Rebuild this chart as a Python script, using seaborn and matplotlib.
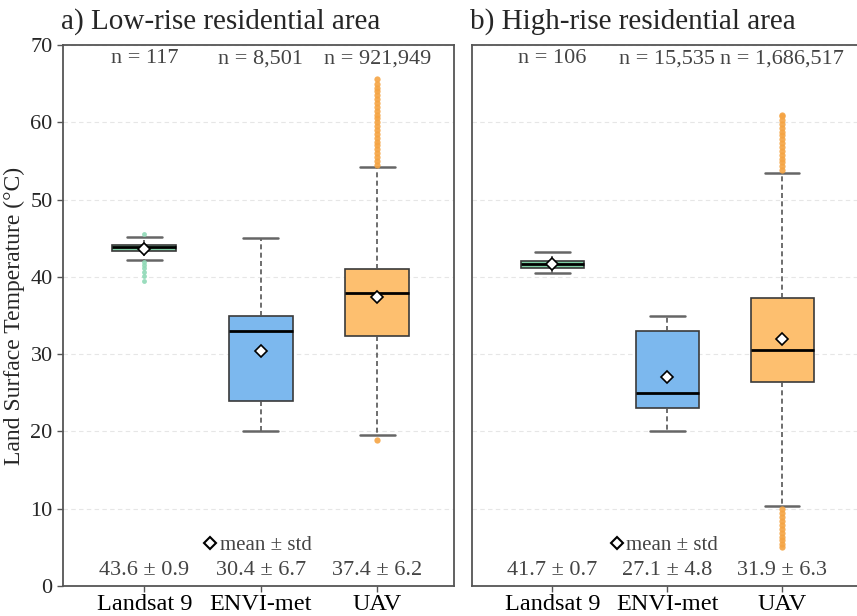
import matplotlib
matplotlib.use("Agg")
import matplotlib.pyplot as plt
from matplotlib.lines import Line2D
import numpy as np
import seaborn as sns

sources = ["Landsat 9", "ENVI-met", "UAV"]
box_colors = ["#7fcfa5", "#7cb8ee", "#fdbf6f"]
flier_colors = ["#8fd9b6", "#7cb8ee", "#f5a443"]

# a) low-rise residential area
low_q1 = [43.4, 24.0, 32.4]
low_med = [43.8, 33.0, 37.9]
low_q3 = [44.1, 35.0, 41.0]
low_whislo = [42.2, 20.0, 19.6]
low_whishi = [45.2, 45.0, 54.2]
low_mean = [43.6, 30.4, 37.4]
low_std = [0.9, 6.7, 6.2]
low_n = ["117", "8,501", "921,949"]
low_fliers = [
    [45.5, 41.9, 41.5, 41.2, 40.6, 40.1, 39.4],
    [],
    [54.5, 55.0, 55.5, 56.0, 56.5, 57.0, 57.5, 58.0, 58.5, 59.0, 59.5, 60.0,
     60.5, 61.0, 61.5, 62.0, 62.5, 63.0, 63.5, 64.0, 64.5, 65.0, 65.6, 18.9],
]

# b) high-rise residential area
high_q1 = [41.2, 23.0, 26.4]
high_med = [41.7, 25.0, 30.6]
high_q3 = [42.1, 33.0, 37.2]
high_whislo = [40.5, 20.0, 10.4]
high_whishi = [43.2, 35.0, 53.4]
high_mean = [41.7, 27.1, 31.9]
high_std = [0.7, 4.8, 6.3]
high_n = ["106", "15,535", "1,686,517"]
high_fliers = [
    [],
    [],
    [53.8, 54.3, 54.8, 55.3, 55.8, 56.3, 56.8, 57.3, 57.8, 58.3, 58.8, 59.3,
     59.8, 60.3, 60.8, 61.0, 9.9, 9.4, 8.9, 8.4, 7.9, 7.4, 6.9, 6.4, 5.9,
     5.4, 5.1],
]

panels = [
    ("a) Low-rise residential area", low_q1, low_med, low_q3, low_whislo,
     low_whishi, low_mean, low_std, low_n, low_fliers),
    ("b) High-rise residential area", high_q1, high_med, high_q3, high_whislo,
     high_whishi, high_mean, high_std, high_n, high_fliers),
]

sns.set_style("ticks")
plt.rcParams["font.family"] = ["Liberation Serif", "DejaVu Serif"]

fig = plt.figure(figsize=(8.57, 6.16), dpi=100)
ax_left = fig.add_axes([63 / 857, 30 / 616, 391 / 857, 541 / 616])
ax_right = fig.add_axes([472 / 857, 30 / 616, 386 / 857, 541 / 616])

text_color = "#444444"
edge_color = "#3a3a3a"

for ax, (title, q1, med, q3, wlo, whi, mean, std, n, fliers) in zip(
        [ax_left, ax_right], panels):
    stats = []
    for i in range(len(sources)):
        stats.append(dict(label=sources[i], q1=q1[i], med=med[i], q3=q3[i],
                          whislo=wlo[i], whishi=whi[i], mean=mean[i],
                          fliers=np.array(fliers[i])))
    positions = np.arange(len(sources))
    bp = ax.bxp(stats, positions=positions, widths=0.55, patch_artist=True,
                showmeans=True,
                boxprops=dict(edgecolor=edge_color, linewidth=1.2),
                medianprops=dict(color="black", linewidth=2),
                whiskerprops=dict(color="#555555", linewidth=1.2,
                                  linestyle=(0, (3, 2))),
                capprops=dict(color="#666666", linewidth=1.8),
                meanprops=dict(marker="D", markerfacecolor="white",
                               markeredgecolor="black", markersize=6.5,
                               markeredgewidth=1.2),
                capwidths=0.3)
    for patch, c in zip(bp["boxes"], box_colors):
        patch.set_facecolor(c)
    for fl, c in zip(bp["fliers"], flier_colors):
        fl.set(marker="o", markersize=4.5, markerfacecolor=c,
               markeredgecolor="none", alpha=0.9)
    bp["fliers"][0].set_markersize(3.5)
    for l in bp["caps"] + bp["whiskers"] + bp["medians"]:
        l.set_zorder(2)
    for m in bp["means"]:
        m.set_zorder(5)

    ax.set_xlim(-0.7, 2.66)
    ax.set_ylim(0, 70)
    ax.set_yticks(range(0, 71, 10))
    ax.yaxis.grid(True, linestyle=(0, (4, 3)), color="#e6e6e6", linewidth=0.8)
    ax.set_axisbelow(True)
    ax.set_xticks(positions)
    ax.set_xticklabels(sources, fontsize=17.5, color="black")
    ax.tick_params(axis="both", length=4, width=1, color="#555555")
    ax.tick_params(axis="x", pad=1.5)
    for sp in ax.spines.values():
        sp.set_visible(True)
        sp.set_color("#555555")
        sp.set_linewidth(1.3)
    ax.set_title(title, loc="left", fontsize=21, pad=12, x=-0.005)

    for i in range(len(sources)):
        ax.text(positions[i], 68.2, f"n = {n[i]}", ha="center", va="center",
                fontsize=16, color=text_color)
        ax.text(positions[i], 2.0, f"{mean[i]} \u00b1 {std[i]}", ha="center",
                va="center", fontsize=16, color=text_color)

    handle = Line2D([], [], linestyle="none", marker="D",
                    markerfacecolor="white", markeredgecolor="black",
                    markersize=6, markeredgewidth=1.5)
    leg = ax.legend([handle], ["mean \u00b1 std"], loc="center",
                    bbox_to_anchor=(0.98, 5.3), bbox_transform=ax.transData,
                    frameon=False, fontsize=15, handlelength=0.5,
                    handletextpad=0.2, borderpad=0)
    for t in leg.get_texts():
        t.set_color(text_color)

ax_left.set_ylabel("Land Surface Temperature (\u00b0C)", fontsize=17)
ax_left.tick_params(axis="y", labelsize=16)
ax_right.tick_params(axis="y", labelleft=False, length=0)

fig.savefig("out.png", dpi=100)
